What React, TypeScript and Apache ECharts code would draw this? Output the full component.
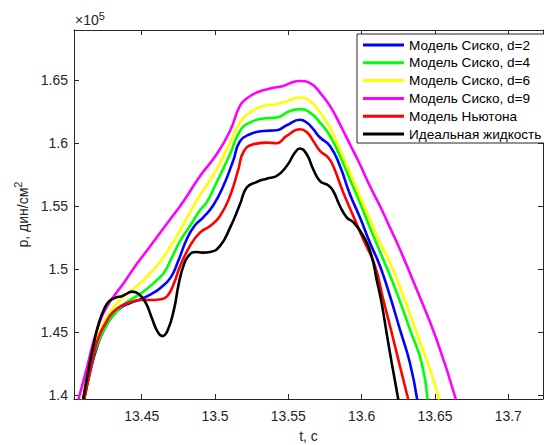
import React, { useEffect, useRef } from 'react';
import * as echarts from 'echarts';

// Tick values
const xTicks = [13.45, 13.5, 13.55, 13.6, 13.65, 13.7];
const yTicks = [1.4, 1.45, 1.5, 1.55, 1.6, 1.65];

const X_MIN = 13.4038;
const X_MAX = 13.7237;
const Y_MIN = 1.3969;
const Y_MAX = 1.6896;

const seriesNames = [
  'Модель Сиско, d=2',
  'Модель Сиско, d=4',
  'Модель Сиско, d=6',
  'Модель Сиско, d=9',
  'Модель Ньютона',
  'Идеальная жидкость',
];
const seriesColors = ['#0000FF', '#00FF00', '#FFFF00', '#FF00FF', '#FF0000', '#000000'];

// values: [t (s), p (x1e5 dyn/cm^2)]
const siskoD2 = [
  [13.4107, 1.3965], [13.4152, 1.4204], [13.4197, 1.4389], [13.4243, 1.4521], [13.43, 1.4627],
  [13.4357, 1.4694], [13.4425, 1.4733], [13.4493, 1.476], [13.4561, 1.4799], [13.463, 1.4852],
  [13.4698, 1.4934], [13.4748, 1.5061], [13.4807, 1.5236], [13.4863, 1.5347], [13.492, 1.541],
  [13.4988, 1.5506], [13.5056, 1.5656], [13.5125, 1.5863], [13.517, 1.6013], [13.5238, 1.6069],
  [13.5329, 1.6095], [13.542, 1.6101], [13.5489, 1.614], [13.5579, 1.6184], [13.5625, 1.6162],
  [13.567, 1.6109], [13.5716, 1.6043], [13.5784, 1.5976], [13.5852, 1.5817], [13.592, 1.5593],
  [13.5988, 1.541], [13.6056, 1.521], [13.6125, 1.5024], [13.6193, 1.4786], [13.6261, 1.4521],
  [13.6329, 1.4257], [13.6379, 1.3965],
];

const siskoD4 = [
  [13.4102, 1.3965], [13.4152, 1.423], [13.4197, 1.4402], [13.4255, 1.4548], [13.4311, 1.464],
  [13.4379, 1.472], [13.4448, 1.4773], [13.4516, 1.4825], [13.4584, 1.4892], [13.4652, 1.4971],
  [13.4705, 1.509], [13.4761, 1.5222], [13.4829, 1.5341], [13.4897, 1.5466], [13.4943, 1.5529],
  [13.5011, 1.5688], [13.5102, 1.591], [13.517, 1.6095], [13.5238, 1.6162], [13.5329, 1.6194],
  [13.542, 1.6202], [13.5511, 1.6254], [13.5579, 1.6268], [13.5648, 1.6241], [13.5716, 1.6162],
  [13.5784, 1.6056], [13.5852, 1.5897], [13.592, 1.5712], [13.5988, 1.5527], [13.6056, 1.5329],
  [13.6147, 1.5077], [13.6239, 1.4813], [13.6329, 1.4521], [13.6409, 1.4257], [13.645, 1.3965],
];

const siskoD6 = [
  [13.4095, 1.3965], [13.4141, 1.423], [13.4186, 1.4416], [13.4231, 1.4548], [13.4289, 1.4667],
  [13.4357, 1.476], [13.4425, 1.4825], [13.4493, 1.4892], [13.4561, 1.4971], [13.463, 1.5063],
  [13.4698, 1.5183], [13.4766, 1.5315], [13.4834, 1.546], [13.4897, 1.5585], [13.5011, 1.5791],
  [13.5102, 1.6003], [13.517, 1.6162], [13.5238, 1.6241], [13.5329, 1.6294], [13.542, 1.6307],
  [13.5511, 1.6341], [13.5579, 1.636], [13.5648, 1.6333], [13.5716, 1.6241], [13.5784, 1.6122],
  [13.5852, 1.595], [13.592, 1.5765], [13.5988, 1.5579], [13.6056, 1.5394], [13.6125, 1.521],
  [13.6193, 1.5051], [13.6284, 1.4786], [13.6375, 1.4495], [13.6466, 1.4204], [13.6529, 1.3965],
];

const siskoD9 = [
  [13.4068, 1.3965], [13.4129, 1.423], [13.4175, 1.4442], [13.422, 1.4601], [13.4265, 1.4706],
  [13.4311, 1.4786], [13.4379, 1.4892], [13.4448, 1.5011], [13.4516, 1.5117], [13.4584, 1.5222],
  [13.4652, 1.5329], [13.472, 1.5434], [13.4784, 1.5535], [13.4897, 1.5736], [13.5011, 1.591],
  [13.5102, 1.6095], [13.517, 1.6295], [13.5218, 1.6355], [13.5284, 1.64], [13.5375, 1.6432],
  [13.5465, 1.6452], [13.5511, 1.6474], [13.5579, 1.6492], [13.5648, 1.6474], [13.5716, 1.64],
  [13.5784, 1.6294], [13.5852, 1.6148], [13.592, 1.599], [13.5988, 1.5831], [13.6056, 1.5659],
  [13.6125, 1.55], [13.6193, 1.5329], [13.6261, 1.5156], [13.6375, 1.4839], [13.6511, 1.4442],
  [13.6643, 1.3965],
];

const newton = [
  [13.4107, 1.3965], [13.4141, 1.4151], [13.4175, 1.4337], [13.4209, 1.4468], [13.4255, 1.4575],
  [13.43, 1.4654], [13.4357, 1.4706], [13.4425, 1.4738], [13.4493, 1.4754], [13.4584, 1.4754],
  [13.463, 1.476], [13.4675, 1.4786], [13.472, 1.4887], [13.4761, 1.5021], [13.4829, 1.5183],
  [13.4897, 1.5289], [13.4966, 1.5341], [13.5034, 1.5421], [13.5102, 1.5579], [13.5159, 1.5791],
  [13.5193, 1.5926], [13.5261, 1.599], [13.5352, 1.6003], [13.542, 1.5998], [13.5489, 1.6056],
  [13.5579, 1.6109], [13.5625, 1.6087], [13.567, 1.6016], [13.5716, 1.5937], [13.5772, 1.5884],
  [13.5806, 1.5817], [13.5875, 1.5606], [13.5943, 1.5421], [13.6011, 1.5236], [13.6091, 1.5024],
  [13.6147, 1.476], [13.6205, 1.4495], [13.6261, 1.423], [13.6318, 1.3965],
];

const idealFluid = [
  [13.41, 1.3965], [13.4141, 1.423], [13.4175, 1.4418], [13.4209, 1.4577], [13.4243, 1.468],
  [13.4278, 1.4746], [13.4323, 1.4773], [13.4368, 1.4786], [13.4402, 1.4807], [13.4436, 1.4821],
  [13.4482, 1.4799], [13.4527, 1.4733], [13.4572, 1.4601], [13.4606, 1.4508], [13.464, 1.4468],
  [13.4675, 1.4508], [13.472, 1.468], [13.4754, 1.4892], [13.4788, 1.5037], [13.4822, 1.5109],
  [13.4868, 1.5135], [13.4913, 1.513], [13.4966, 1.5135], [13.5034, 1.5183], [13.5102, 1.5326],
  [13.517, 1.5513], [13.5216, 1.5646], [13.5284, 1.569], [13.5352, 1.5717], [13.542, 1.5738],
  [13.5489, 1.5817], [13.5545, 1.5924], [13.5579, 1.5956], [13.5625, 1.591], [13.567, 1.5791],
  [13.5716, 1.5698], [13.5772, 1.5664], [13.5806, 1.5619], [13.5852, 1.55], [13.5898, 1.541],
  [13.5943, 1.5371], [13.6011, 1.5262], [13.6068, 1.5103], [13.6102, 1.4918], [13.6136, 1.4733],
  [13.617, 1.4495], [13.6205, 1.4257], [13.625, 1.3965],
];

const seriesData = [siskoD2, siskoD4, siskoD6, siskoD9, newton, idealFluid];

export default function App() {
  const ref = useRef<HTMLDivElement>(null);

  useEffect(() => {
    if (!ref.current) return;
    const chart = echarts.init(ref.current, null, { renderer: 'svg' });
    const axisColor = '#262626';
    const font = "'Liberation Sans', Arial, Helvetica, sans-serif";
    const fmt = (v: number) => String(parseFloat(Number(v).toFixed(2)));

    const frameX = (pos: 'bottom' | 'top', main: boolean) => ({
      type: 'value',
      position: pos,
      min: X_MIN,
      max: X_MAX,
      splitLine: { show: false },
      axisLine: { show: true, onZero: false, lineStyle: { color: axisColor, width: 1 } },
      axisTick: {
        show: true,
        inside: true,
        length: 5,
        customValues: xTicks,
        lineStyle: { color: axisColor, width: 1 },
      },
      axisLabel: {
        show: main,
        customValues: xTicks,
        formatter: fmt,
        color: axisColor,
        fontSize: 14,
        margin: 10,
        fontFamily: font,
      },
      ...(main
        ? {
            name: 't, c',
            nameLocation: 'middle',
            nameGap: 30,
            nameTextStyle: { color: axisColor, fontSize: 14, fontFamily: font },
          }
        : {}),
    });

    const frameY = (pos: 'left' | 'right', main: boolean) => ({
      type: 'value',
      position: pos,
      min: Y_MIN,
      max: Y_MAX,
      splitLine: { show: false },
      axisLine: { show: true, onZero: false, lineStyle: { color: axisColor, width: 1 } },
      axisTick: {
        show: true,
        inside: true,
        length: 5,
        customValues: yTicks,
        lineStyle: { color: axisColor, width: 1 },
      },
      axisLabel: {
        show: main,
        customValues: yTicks,
        formatter: fmt,
        color: axisColor,
        fontSize: 14,
        margin: 6,
        fontFamily: font,
      },
      ...(main
        ? {
            name: '{a|p, дин/см}{b|2}',
            nameLocation: 'middle',
            nameGap: 38,
            nameTextStyle: {
              color: axisColor,
              fontFamily: font,
              rich: {
                a: { fontSize: 14, lineHeight: 20, color: axisColor, fontFamily: font },
                b: { fontSize: 11, lineHeight: 11, verticalAlign: 'top', color: axisColor, fontFamily: font },
              },
            },
          }
        : {}),
    });

    chart.setOption({
      animation: false,
      backgroundColor: '#ffffff',
      textStyle: { fontFamily: font },
      grid: { left: 74, right: 1, top: 30, bottom: 46, containLabel: false, outerBoundsMode: 'none' },
      xAxis: [frameX('bottom', true), frameX('top', false)],
      yAxis: [frameY('left', true), frameY('right', false)],
      legend: {
        show: true,
        orient: 'vertical',
        left: 357,
        top: 34,
        padding: [4, 7, 2, 6],
        itemGap: 3.8,
        itemWidth: 41,
        itemHeight: 3,
        icon: 'rect',
        backgroundColor: '#ffffff',
        borderColor: axisColor,
        borderWidth: 1,
        borderRadius: 0,
        textStyle: { fontSize: 13.6, lineHeight: 14, color: '#000000', fontFamily: font },
        data: seriesNames,
      },
      graphic: [
        {
          type: 'text',
          left: 75,
          top: 10,
          style: {
            text: '{a|×10}{b|5}',
            rich: {
              a: { fontSize: 14, lineHeight: 20, fill: axisColor, fontFamily: font },
              b: { fontSize: 11, lineHeight: 11, verticalAlign: 'top', fill: axisColor, fontFamily: font },
            },
          },
        },
      ],
      series: seriesData.map((d, i) => ({
        name: seriesNames[i],
        type: 'line',
        xAxisIndex: 0,
        yAxisIndex: 0,
        data: d,
        showSymbol: false,
        symbol: 'none',
        smooth: 0.5,
        clip: true,
        color: seriesColors[i],
        lineStyle: { color: seriesColors[i], width: 2.6 },
        emphasis: { disabled: true },
      })),
    });

    return () => {
      chart.dispose();
    };
  }, []);

  return (
    <div
      ref={ref}
      style={{ position: 'absolute', left: 0, top: 0, width: 544, height: 445, background: '#fff' }}
    />
  );
}
